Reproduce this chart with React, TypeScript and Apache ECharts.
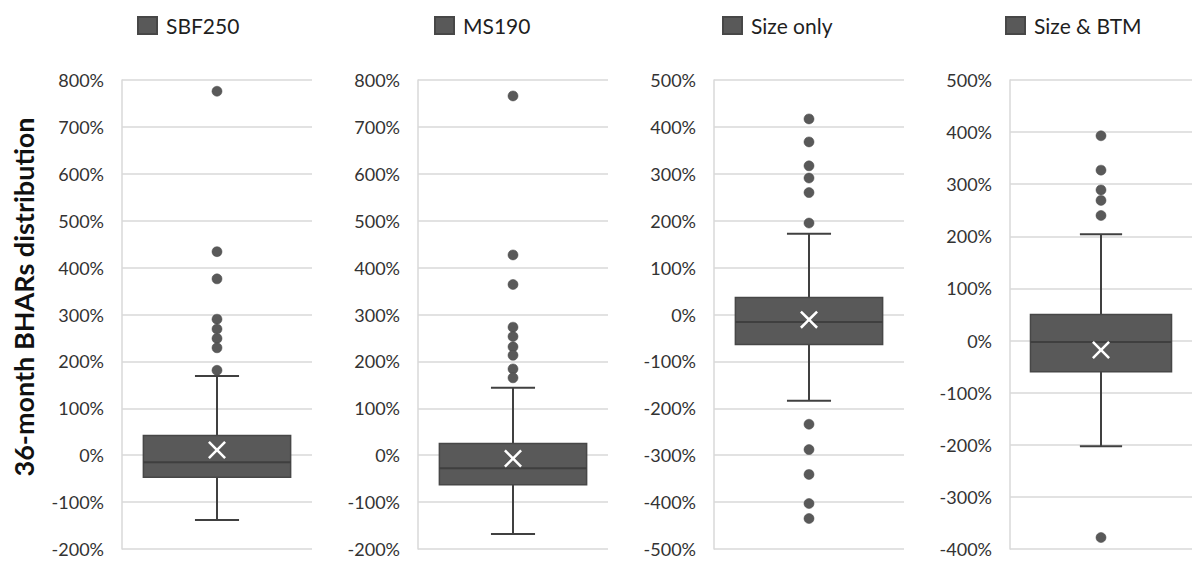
import React, { useEffect, useRef } from "react";
import * as echarts from "echarts";

// Series names (one per panel)
const seriesNames = ["SBF250", "MS190", "Size only", "Size & BTM"];
// Box statistics: [lower whisker, Q1, median, Q3, upper whisker] in %
const boxSBF250 = [-138, -47, -15, 42, 169];
const boxMS190 = [-168, -63, -28, 25, 144];
const boxSizeOnly = [-184, -64, -16, 36, 172];
const boxSizeBTM = [-203, -60, -3, 50, 204];
// Means (× markers) in %
const meanValues = [11, -7, -11, -18];
// Outliers in %
const outSBF250 = [776, 434, 376, 290, 269, 249, 229, 181];
const outMS190 = [766, 427, 364, 273, 253, 231, 213, 184, 165];
const outSizeOnly = [417, 368, 317, 291, 260, 195, -234, -288, -341, -403, -435];
const outSizeBTM = [393, 327, 289, 269, 240, -378];
// Axis ranges
const axisMin = [-200, -200, -500, -400];
const axisMax = [800, 800, 500, 500];
const axisInterval = 100;
const yTitle = "36-month BHARs distribution";

const boxes = [boxSBF250, boxMS190, boxSizeOnly, boxSizeBTM];
const outliers = [outSBF250, outMS190, outSizeOnly, outSizeBTM];

const gridLefts = [122, 418, 714, 1010];
const legendLefts = [132, 429, 717, 1000];
const FONT = "Lato";
const BOX_FILL = "#595959";
const LINE_DARK = "#404040";
const GRID_COLOR = "#d9d9d9";
const X_PATH =
  "path://M2,0 L10,8 L18,0 L20,2 L12,10 L20,18 L18,20 L10,12 L2,20 L0,18 L8,10 L0,2 Z";

const renderBox = (params: any, api: any) => {
  const x = api.value(0);
  const pLo = api.coord([x, api.value(1)]);
  const pQ1 = api.coord([x, api.value(2)]);
  const pMed = api.coord([x, api.value(3)]);
  const pQ3 = api.coord([x, api.value(4)]);
  const pHi = api.coord([x, api.value(5)]);
  const band = api.size([1, 0])[0];
  const bw = band * 0.775;
  const cw = band * 0.232;
  const cx = pMed[0];
  const line = { stroke: LINE_DARK, lineWidth: 2 };
  return {
    type: "group",
    children: [
      { type: "line", shape: { x1: cx, y1: pHi[1], x2: cx, y2: pQ3[1] }, style: line },
      { type: "line", shape: { x1: cx, y1: pQ1[1], x2: cx, y2: pLo[1] }, style: line },
      { type: "line", shape: { x1: cx - cw / 2, y1: pHi[1], x2: cx + cw / 2, y2: pHi[1] }, style: line },
      { type: "line", shape: { x1: cx - cw / 2, y1: pLo[1], x2: cx + cw / 2, y2: pLo[1] }, style: line },
      {
        type: "rect",
        shape: { x: cx - bw / 2, y: pQ3[1], width: bw, height: pQ1[1] - pQ3[1] },
        style: { fill: BOX_FILL, stroke: "#474747", lineWidth: 1.5 },
      },
      {
        type: "line",
        shape: { x1: cx - bw / 2, y1: pMed[1], x2: cx + bw / 2, y2: pMed[1] },
        style: { stroke: "#3f3f3f", lineWidth: 2 },
      },
    ],
  };
};

export default function App() {
  const ref = useRef<HTMLDivElement>(null);
  useEffect(() => {
    if (!ref.current) return;
    const chart = echarts.init(ref.current, undefined, { renderer: "svg" });
    const grids = gridLefts.map((l) => ({ left: l, top: 80, width: 190, height: 469 }));
    const xAxes = gridLefts.map((_, i) => ({
      type: "category",
      gridIndex: i,
      data: [""],
      axisLine: { show: false },
      axisTick: { show: false },
      axisLabel: { show: false },
      splitLine: { show: false },
    }));
    const yAxes = gridLefts.map((_, i) => ({
      type: "value",
      gridIndex: i,
      min: axisMin[i],
      max: axisMax[i],
      interval: axisInterval,
      axisLine: { show: true, lineStyle: { color: GRID_COLOR, width: 1.5 } },
      axisTick: { show: false },
      axisLabel: {
        formatter: "{value}%",
        color: "#333333",
        fontFamily: FONT,
        fontSize: 18,
        margin: 18,
      },
      splitLine: { show: true, lineStyle: { color: GRID_COLOR, width: 1.5 } },
    }));
    const series: any[] = [];
    boxes.forEach((b, i) => {
      series.push({
        name: seriesNames[i],
        type: "custom",
        xAxisIndex: i,
        yAxisIndex: i,
        renderItem: renderBox,
        encode: { x: 0, y: [1, 2, 3, 4, 5] },
        itemStyle: { color: BOX_FILL, borderColor: "#474747", borderWidth: 1 },
        data: [[0, ...b]],
        z: 2,
      });
      series.push({
        type: "scatter",
        xAxisIndex: i,
        yAxisIndex: i,
        symbol: "circle",
        symbolSize: 10,
        itemStyle: { color: BOX_FILL, opacity: 1, borderColor: "#4a4a4a", borderWidth: 0.5 },
        data: outliers[i].map((v) => [0, v]),
        z: 3,
      });
      series.push({
        type: "scatter",
        xAxisIndex: i,
        yAxisIndex: i,
        symbol: X_PATH,
        symbolSize: 18,
        itemStyle: { color: "#ffffff", opacity: 1 },
        data: [[0, meanValues[i]]],
        z: 4,
      });
    });
    const legends = seriesNames.map((n, i) => ({
      data: [n],
      left: legendLefts[i],
      top: 10,
      icon: "rect",
      itemWidth: 19,
      itemHeight: 17,
      selectedMode: false,
      textStyle: {
        color: "#1f1f1f",
        fontFamily: FONT,
        fontSize: 21,
        padding: [0, 0, 0, 4],
      },
    }));
    chart.setOption({
      animation: false,
      backgroundColor: "#ffffff",
      grid: grids,
      xAxis: xAxes,
      yAxis: yAxes,
      legend: legends,
      series,
      graphic: [
        {
          type: "text",
          x: 23,
          y: 297,
          rotation: Math.PI / 2,
          style: {
            text: yTitle,
            fill: "#111111",
            fontFamily: FONT,
            fontSize: 27,
            fontWeight: "bold",
            align: "center",
            verticalAlign: "middle",
            textAlign: "center",
            textVerticalAlign: "middle",
          },
        },
      ],
    });
    return () => chart.dispose();
  }, []);
  return (
    <div
      ref={ref}
      style={{ position: "fixed", left: 0, top: 0, width: 1192, height: 562 }}
    />
  );
}
